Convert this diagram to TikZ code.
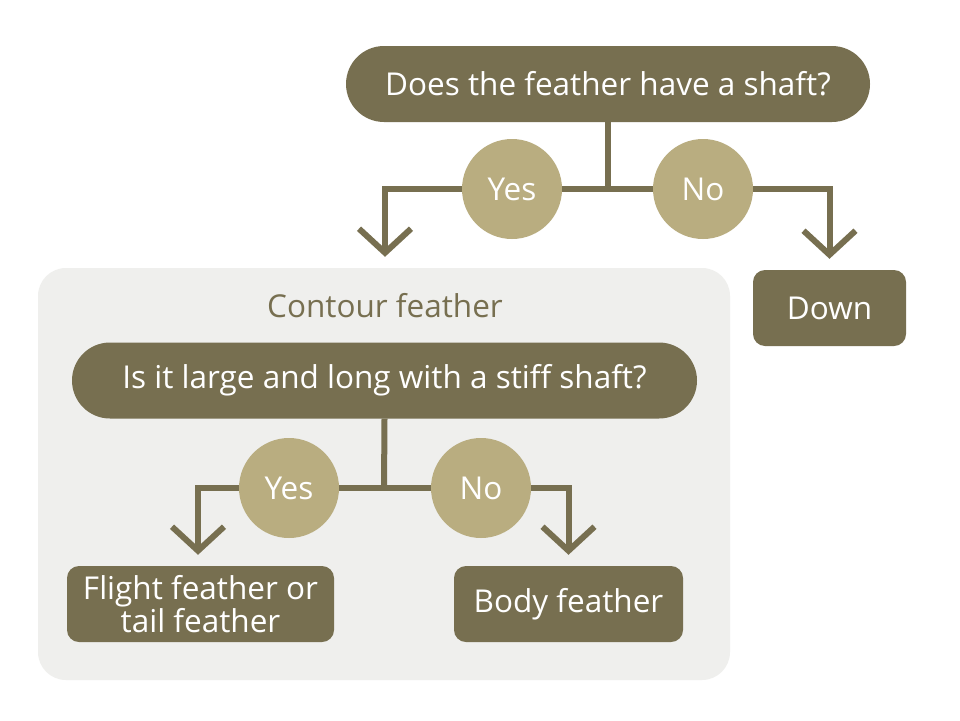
\documentclass[tikz,border=0pt]{standalone}
\usepackage{fontspec}
\setmainfont{Open Sans}
\usetikzlibrary{arrows.meta,shapes.misc}
\definecolor{olive}{HTML}{776F50}
\definecolor{tan}{HTML}{B9AD80}
\definecolor{panelgray}{HTML}{EFEFED}
\tikzset{
  x=1pt, y=-1pt,
  txt/.style={font=\fontsize{31.5}{31}\selectfont},
  pill/.style={txt, rounded rectangle, fill=olive, text=white, inner sep=0pt, minimum height=76pt},
  answer/.style={txt, rectangle, rounded corners=12pt, fill=olive, text=white, inner sep=0pt, minimum height=76pt, align=center},
  choice/.style={txt, circle, fill=tan, text=white, inner sep=0pt, minimum size=100pt},
  conn/.style={draw=olive, line width=6pt},
  arrowconn/.style={conn, -{Straight Barb[length=24pt,width=52pt,line width=6pt]}, shorten >=11pt},
}
\begin{document}
\begin{tikzpicture}
\useasboundingbox (0,0) rectangle (960,720);
\fill[white] (0,0) rectangle (960,720);
% panel
\node[fill=panelgray, rounded corners=28pt, minimum width=692pt, minimum height=412pt, inner sep=0pt] (panel) at (384,474) {};
\node[txt, text=olive] (contour) at (385,306) {Contour feather};
% top question
\node[pill, minimum width=524pt] (q1) at (608,84) {Does the feather have a shaft?};
\coordinate (j1) at (608,189);
\node[choice] (yes1) at (512,189) {Yes};
\node[choice] (no1) at (703,189) {No};
\node[answer, minimum width=153pt] (down) at (829.5,308) {Down};
% second question
\node[pill, minimum width=625pt] (q2) at (384.5,380.5) {Is it large and long with a stiff shaft?};
\coordinate (j2) at (384,488);
\node[choice] (yes2) at (289,488) {Yes};
\node[choice] (no2) at (481,488) {No};
\node[answer, minimum width=267pt] (flight) at (200.5,604) {Flight feather or\\tail feather};
\node[answer, minimum width=229pt] (body) at (568.5,604) {Body feather};
% connectors
\draw[conn] (q1.south) -- (j1);
\draw[conn] (yes1.east) -- (no1.west);
\draw[arrowconn] (yes1.west) -| (panel.north -| contour.north);
\draw[arrowconn] (no1.east) -| (down.north);
\draw[conn] (q2.south) -- (j2);
\draw[conn] (yes2.east) -- (no2.west);
\draw[arrowconn] (yes2.west) -| ([xshift=-2.5pt]flight.north);
\draw[arrowconn] (no2.east) -| (body.north);
\end{tikzpicture}
\end{document}
